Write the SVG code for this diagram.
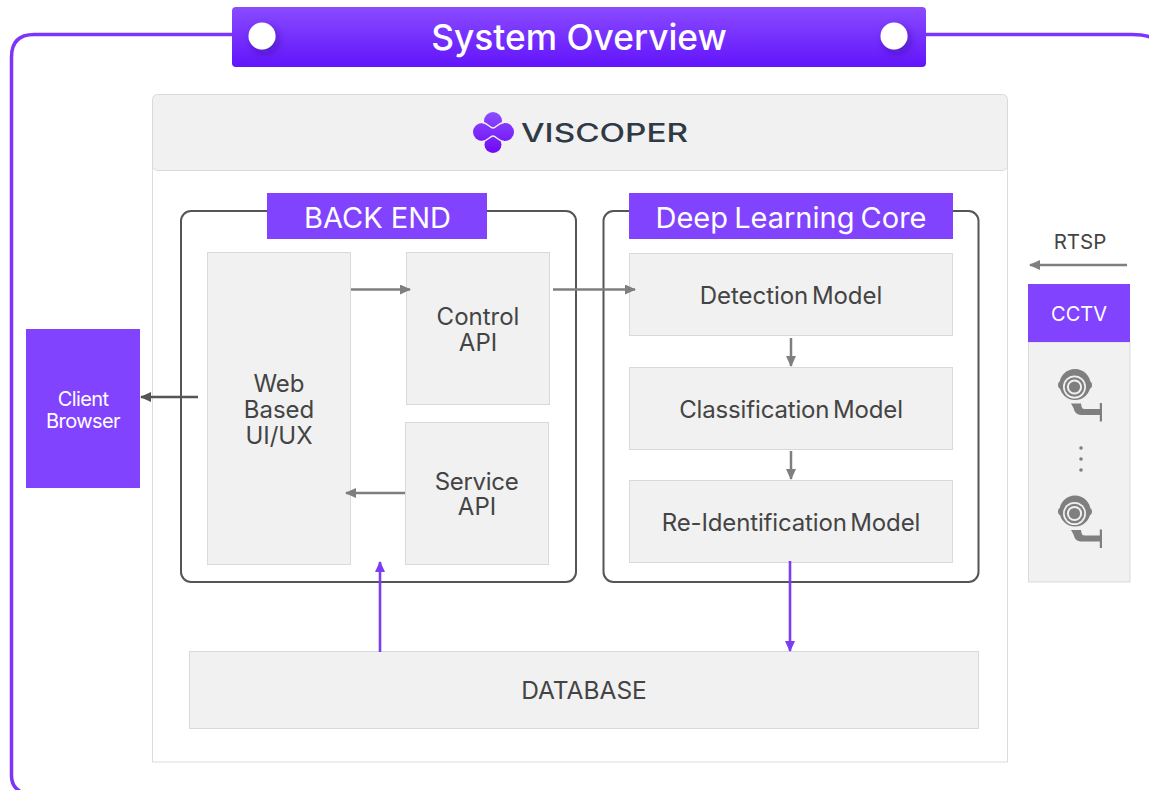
<svg xmlns="http://www.w3.org/2000/svg" width="1149" height="790" viewBox="0 0 1149 790">
<style>
text{font-family:Inter,Roboto,"Liberation Sans",sans-serif;text-anchor:middle}
.box{fill:#f1f1f1;stroke:#d9d9d9;stroke-width:1}
.pur{fill:#8243ff}
.w{fill:#fff}
.d{fill:#444}
.t24{font-size:24px}
.m{word-spacing:-3px;letter-spacing:-.05px}
.g{stroke:#7f7f7f;stroke-width:2.5;fill:none}
.p{stroke:#7b3cf5;stroke-width:2.6;fill:none}
.frame{fill:#fff;stroke:#555;stroke-width:2}
</style>
<defs>
<linearGradient id="bar" x1="0" y1="0" x2="0" y2="1"><stop offset="0" stop-color="#8a4bff"/><stop offset="1" stop-color="#6214fb"/></linearGradient>
<linearGradient id="lg" gradientUnits="userSpaceOnUse" x1="0" y1="112" x2="0" y2="153"><stop offset="0" stop-color="#8a4fff"/><stop offset="1" stop-color="#7008f5"/></linearGradient>
<filter id="sh" x="-50%" y="-50%" width="220%" height="220%"><feDropShadow dx="3" dy="4" stdDeviation="4" flood-color="#3a0a99" flood-opacity=".55"/></filter>
<marker id="ag" markerWidth="11" markerHeight="10" refX="10" refY="5" markerUnits="userSpaceOnUse" orient="auto"><path d="M0 0L11 5L0 10Z" fill="#7f7f7f"/></marker>
<marker id="ad" markerWidth="11" markerHeight="10" refX="10" refY="5" markerUnits="userSpaceOnUse" orient="auto"><path d="M0 0L11 5L0 10Z" fill="#555"/></marker>
<marker id="ap" markerWidth="11" markerHeight="10" refX="10" refY="5" markerUnits="userSpaceOnUse" orient="auto"><path d="M0 0L11 5L0 10Z" fill="#7b3cf5"/></marker>
<g id="cam">
<circle cx="1075" cy="384.500" r="15.500" fill="#7f7f7f"/><rect x="1058" y="381" width="34" height="8" rx="4" fill="#7f7f7f"/>
<circle cx="1074.500" cy="387" r="11.500" fill="#f1f1f1"/><circle cx="1074.500" cy="387" r="9.800" fill="#7f7f7f"/><circle cx="1074.500" cy="387" r="7.600" fill="#f1f1f1"/><circle cx="1074.500" cy="387" r="5.600" fill="#7f7f7f"/>
<path d="M1071 403.500h10l.5 3q.5 2.500 3 2.500h15.500v6h-19q-6 0-7.500-7z" fill="#7f7f7f"/><rect x="1099.800" y="403" width="2.200" height="18.500" fill="#7f7f7f"/>
</g>
</defs>
<g id="outer-frame"><path fill="none" stroke="#7d35fb" stroke-width="3.500" d="M232 34.500H34Q11.500 34.500 11.500 57V776Q11.500 787 21 792M926 34.500H1132Q1145 34.500 1153 38"/></g>
<g id="title"><rect x="232" y="7" width="694" height="60" rx="4" fill="url(#bar)"/><circle cx="262" cy="36" r="13.500" fill="#fff" filter="url(#sh)"/><circle cx="894" cy="36" r="13.500" fill="#fff" filter="url(#sh)"/><text x="579" y="50" font-size="35.300" class="w" style="font-weight:500">System Overview</text></g>
<g id="viscoper"><rect x="152.500" y="159" width="855" height="603" fill="#fff" stroke="#dcdcdc"/><rect x="152.500" y="94.500" width="855" height="76" rx="5" class="box"/>
<g fill="url(#lg)"><circle cx="493" cy="121" r="9"/><circle cx="493" cy="144.500" r="8.500"/><circle cx="482" cy="132" r="9"/><circle cx="505" cy="132" r="9"/><rect x="482" y="123" width="23" height="18"/></g>
<path d="M482 122.500C488 123 490 128 493 128C496 128 498 123 504 122.500M482 141.500C488 141 490 136 493 136C496 136 498 141 504 141.500" stroke="#f1f1f1" stroke-width="1.500" fill="none"/>
<text x="604.500" y="141.500" font-size="25.500" fill="#2f3a45" textLength="167" lengthAdjust="spacingAndGlyphs" style="font-weight:500">VISCOPER</text></g>
<g id="back-end"><rect x="181" y="211" width="395" height="371" rx="10" class="frame"/><rect x="267" y="193" width="220" height="46" class="pur"/><text x="377.500" y="228" font-size="29" class="w">BACK END</text></g>
<g id="dl-core"><rect x="603.500" y="211" width="375" height="371" rx="10" class="frame"/><rect x="629" y="193" width="324" height="46" class="pur"/><text x="791" y="228" font-size="29" class="w" style="word-spacing:-2px">Deep Learning Core</text></g>
<g id="web-ui"><rect x="207.500" y="252.500" width="143" height="312" class="box"/><text class="d t24" x="279" y="392">Web</text><text class="d t24" x="279" y="418">Based</text><text class="d t24" x="279" y="444">UI/UX</text></g>
<g id="control-api"><rect x="406.500" y="252.500" width="143" height="152" class="box"/><text class="d t24" x="478" y="325">Control</text><text class="d t24" x="478" y="351">API</text></g>
<g id="service-api"><rect x="405.500" y="422.500" width="143" height="142" class="box"/><text class="d t24" x="476.500" y="490" style="letter-spacing:-.3px">Service</text><text class="d t24" x="477" y="515">API</text></g>
<g id="detection"><rect x="629.500" y="253.500" width="323" height="82" class="box"/><text class="d t24 m" x="791" y="304">Detection Model</text></g>
<g id="classification"><rect x="629.500" y="367.500" width="323" height="82" class="box"/><text class="d t24 m" x="791" y="418" style="letter-spacing:-.15px">Classification Model</text></g>
<g id="reid"><rect x="629.500" y="480.500" width="323" height="82" class="box"/><text class="d t24 m" x="791" y="531" style="letter-spacing:-.15px">Re-Identification Model</text></g>
<g id="database"><rect x="189.500" y="651.500" width="789" height="77" class="box"/><text class="d" font-size="24.500" x="584" y="699">DATABASE</text></g>
<g id="client"><rect x="26" y="329" width="114" height="159" class="pur"/><text class="w" x="83" y="406" font-size="20" style="letter-spacing:-.6px">Client</text><text class="w" x="83" y="428" font-size="20" style="letter-spacing:-.6px">Browser</text></g>
<g id="cctv"><rect x="1028.500" y="342" width="101.500" height="240" class="box"/><rect x="1028" y="284" width="102" height="58" class="pur"/><text class="w" x="1079" y="321" font-size="20">CCTV</text><use href="#cam"/><use href="#cam" y="126.500"/><g fill="#7f7f7f"><circle cx="1081" cy="448" r="1.800"/><circle cx="1081" cy="459" r="1.800"/><circle cx="1081" cy="470" r="1.800"/></g></g>
<g id="rtsp"><text x="1080" y="249" font-size="20.500" fill="#444">RTSP</text></g>
<g id="connectors">
<path class="g" marker-end="url(#ag)" d="M351 289.500H410"/>
<path class="g" marker-end="url(#ag)" d="M553 289.500H635"/>
<path class="g" marker-end="url(#ag)" d="M405 493H346"/>
<path class="g" marker-end="url(#ag)" d="M791 338V366"/>
<path class="g" marker-end="url(#ag)" d="M791 451V479"/>
<path class="g" marker-end="url(#ag)" d="M1127 265H1030"/>
<path stroke="#555" stroke-width="2.500" fill="none" marker-end="url(#ad)" d="M198 397H141"/>
<path class="p" marker-end="url(#ap)" d="M380 652V562"/>
<path class="p" marker-end="url(#ap)" d="M790 561V651"/>
</g>
</svg>
